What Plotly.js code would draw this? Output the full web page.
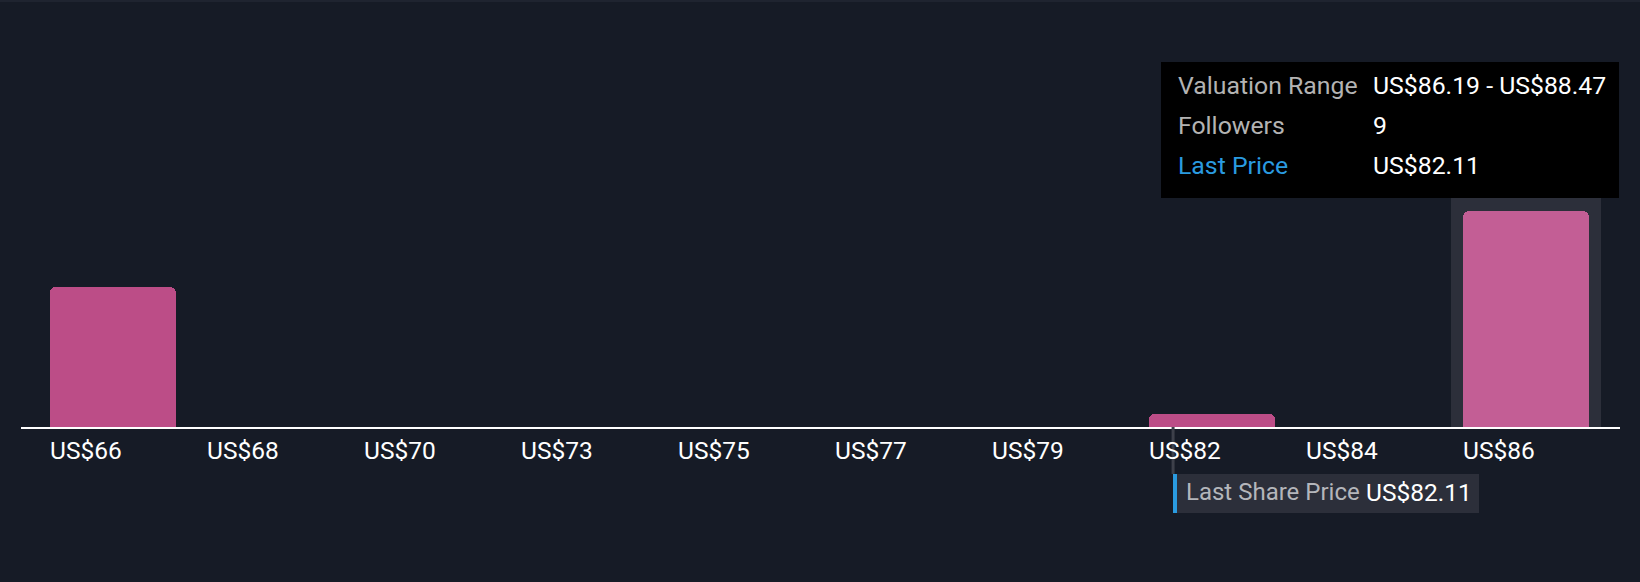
<!DOCTYPE html>
<html>
<head>
<meta charset="utf-8">
<script src="https://cdn.plot.ly/plotly-3.0.1.min.js"></script>
<style>
  html, body { margin: 0; padding: 0; background: #161b26; }
  #chart { width: 1640px; height: 582px; }
</style>
</head>
<body>
<div id="chart"></div>
<script>
// ---- data ----
const binStarts = [65.67, 67.95, 70.23, 72.51, 74.79, 77.07, 79.35, 81.63, 83.91, 86.19];
const binWidth = 2.28;
const tickLabels = ['US$66', 'US$68', 'US$70', 'US$73', 'US$75', 'US$77', 'US$79', 'US$82', 'US$84', 'US$86'];
const followers = [6, 0, 0, 0, 0, 0, 0, 1, 0, 9];
const lastPrice = 82.11;
const highlightIndex = 9;
const tooltipRows = [
  ['Valuation Range', 'US$86.19 - US$88.47'],
  ['Followers', '9'],
  ['Last Price', 'US$82.11']
];
const lastPriceLabel = 'Last Share Price';
const lastPriceText = 'US$82.11';

// ---- layout helpers ----
const W = 1640, H = 582;
const mL = 21, mR = 20, mT = 0, mB = 155;
const plotW = W - mL - mR, plotH = H - mT - mB;
const px = x => (x - mL) / plotW;            // pixel -> paper x
const py = y => (plotH + mT - y) / plotH;    // pixel -> paper y

const barOffset = 0.13, barW = 1.83;
const centers = binStarts.map(s => s + barOffset + barW / 2);
const lefts = binStarts.map(s => s + barOffset);
const colors = followers.map((v, i) => i === highlightIndex ? '#c35e95' : '#bc4d87');

const font = 'Roboto, "Noto Sans", sans-serif';

const trace = {
  type: 'bar',
  x: centers,
  y: followers,
  width: barW,
  marker: { color: colors, cornerradius: 6, line: { width: 0 } },
  hoverinfo: 'skip'
};

const shapes = [
  // top strip
  { type: 'rect', xref: 'paper', yref: 'paper', x0: -mL / plotW, x1: 1 + mR / plotW, y0: py(0), y1: py(2),
    fillcolor: '#1f2430', line: { width: 0 }, layer: 'below' },
  // highlight column
  { type: 'rect', xref: 'x', yref: 'paper', x0: centers[highlightIndex] - 1.09, x1: centers[highlightIndex] + 1.09,
    y0: 0, y1: py(198), fillcolor: '#2c2f3a', line: { width: 0 }, layer: 'below' },
  // tooltip box
  { type: 'rect', xref: 'paper', yref: 'paper', x0: px(1161), x1: px(1619), y0: py(62), y1: py(198),
    fillcolor: '#000000', line: { width: 0 }, layer: 'above' },
  // last price connector line
  { type: 'line', xref: 'x', yref: 'paper', x0: lastPrice, x1: lastPrice, y0: 0, y1: py(474),
    line: { color: '#3d404a', width: 3 } },
  // last price label box
  { type: 'rect', xref: 'paper', yref: 'paper', x0: px(1173), x1: px(1479), y0: py(474), y1: py(513),
    fillcolor: '#2c2f3a', line: { width: 0 } },
  // blue marker
  { type: 'rect', xref: 'paper', yref: 'paper', x0: px(1173), x1: px(1177), y0: py(474), y1: py(513),
    fillcolor: '#2a9be0', line: { width: 0 } }
];

const annotations = [];
// x tick labels (left-aligned at bar left edge)
tickLabels.forEach((t, i) => {
  annotations.push({
    xref: 'x', yref: 'paper', x: lefts[i], y: py(450.5), xanchor: 'left', yanchor: 'middle',
    text: t, showarrow: false, xshift: -2,
    font: { family: font, size: 24.5, color: '#ffffff' }
  });
});
// tooltip rows
const rowY = [85.5, 125.5, 165.5];
tooltipRows.forEach((r, i) => {
  annotations.push({
    xref: 'paper', yref: 'paper', x: px(1178), y: py(rowY[i]), xanchor: 'left', yanchor: 'middle',
    text: r[0], showarrow: false, xshift: -2,
    font: { family: font, size: 24.8, color: i === 2 ? '#2a9be0' : '#b3b3b3' }
  });
  annotations.push({
    xref: 'paper', yref: 'paper', x: px(1373), y: py(rowY[i]), xanchor: 'left', yanchor: 'middle',
    text: r[1], showarrow: false, xshift: -2,
    font: { family: font, size: 24.8, color: '#ffffff' }
  });
});
// last share price label
annotations.push({
  xref: 'paper', yref: 'paper', x: px(1186), y: py(492), xanchor: 'left', yanchor: 'middle',
  text: lastPriceLabel, showarrow: false, xshift: -2,
  font: { family: font, size: 24, color: '#b4b6bb' }
});
annotations.push({
  xref: 'paper', yref: 'paper', x: px(1366), y: py(492), xanchor: 'left', yanchor: 'middle',
  text: lastPriceText, showarrow: false, xshift: -2,
  font: { family: font, size: 24.5, color: '#ffffff' }
});

const layout = {
  width: W, height: H,
  margin: { l: mL, r: mR, t: mT, b: mB, pad: 0 },
  paper_bgcolor: '#161b26',
  plot_bgcolor: '#161b26',
  showlegend: false,
  bargap: 0,
  xaxis: {
    range: [65.38, 88.60], showgrid: false, zeroline: false, showticklabels: false, ticks: '',
    showline: true, linecolor: '#ffffff', linewidth: 2, fixedrange: true
  },
  yaxis: {
    range: [0.47, 17.33], showgrid: false, zeroline: false, showticklabels: false, ticks: '',
    showline: false, fixedrange: true
  },
  shapes: shapes,
  annotations: annotations,
  hovermode: false
};

Plotly.newPlot('chart', [trace], layout, { displayModeBar: false, staticPlot: true });
</script>
</body>
</html>
